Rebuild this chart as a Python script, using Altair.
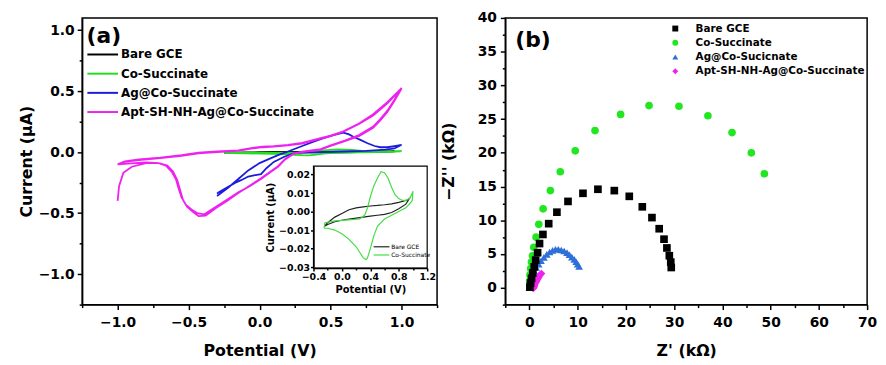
import altair as alt
import pandas as pd

FONT = "DejaVu Sans"

# ---------------- panel (a): cyclic voltammetry ----------------
cv_names = ["Bare GCE", "Co-Succinate", "Ag@Co-Succinate", "Apt-SH-NH-Ag@Co-Succinate"]
cv_colors = ["#000000", "#22dd22", "#1c1cdc", "#ee22ee"]

bare_v = [-0.25, -0.2, -0.1, 0.0, 0.1, 0.2, 0.3, 0.4, 0.5, 0.6, 0.7, 0.8, 0.9, 0.95,
          0.9, 0.8, 0.7, 0.6, 0.5, 0.4, 0.3, 0.2, 0.1, 0.0, -0.1, -0.2, -0.25]
bare_i = [-0.008, -0.006, -0.003, -0.001, 0.001, 0.002, 0.0025, 0.003, 0.0033, 0.0037, 0.0042, 0.005, 0.006, 0.007,
          0.004, 0.0015, -0.0005, -0.0015, -0.002, -0.0025, -0.003, -0.0035, -0.004, -0.0047, -0.0055, -0.007, -0.008]

co_v = [-0.25, -0.24, -0.1, 0.1, 0.25, 0.32, 0.36, 0.4, 0.45, 0.5, 0.55, 0.6, 0.65, 0.7, 0.75, 0.8, 0.85, 0.9, 0.95, 0.98, 1.0,
        0.99, 0.95, 0.9, 0.8, 0.7, 0.6, 0.5, 0.45, 0.4, 0.36, 0.34, 0.3, 0.25, 0.2, 0.1, 0.0, -0.1, -0.2, -0.25]
co_i = [-0.009, -0.006, -0.005, -0.0045, -0.004, -0.002, 0.002, 0.008, 0.014, 0.018, 0.0215, 0.021, 0.018, 0.013, 0.009, 0.007, 0.006, 0.006, 0.007, 0.009, 0.011,
        0.006, 0.004, 0.002, 0.0, -0.002, -0.004, -0.008, -0.013, -0.02, -0.025, -0.026, -0.025, -0.022, -0.019, -0.015, -0.012, -0.01, -0.009, -0.009]

ag_v = [-0.3, -0.22, -0.15, -0.08, 0.0, 0.06, 0.13, 0.2, 0.3, 0.38, 0.45, 0.52, 0.59, 0.63, 0.66, 0.71, 0.76, 0.81, 0.85, 0.9, 0.95, 1.0,
        0.95, 0.89, 0.75, 0.6, 0.45, 0.3, 0.24, 0.17, 0.1, 0.05, 0.01, -0.04, -0.08, -0.13, -0.17, -0.23, -0.29, -0.3]
ag_i = [-0.36, -0.29, -0.22, -0.15, -0.09, -0.06, -0.025, 0.005, 0.05, 0.086, 0.115, 0.14, 0.159, 0.145, 0.126, 0.1, 0.073, 0.05, 0.04, 0.04, 0.05, 0.06,
        0.03, 0.02, 0.01, 0.005, 0.0, -0.005, -0.01, -0.04, -0.08, -0.13, -0.18, -0.19, -0.2, -0.23, -0.25, -0.29, -0.33, -0.34]

apt_up_v = [-1.0, -0.95, -0.85, -0.7, -0.55, -0.43, -0.3, -0.15, -0.05, 0.02, 0.1, 0.2, 0.3, 0.43, 0.5, 0.59, 0.7, 0.8, 0.9, 1.0]
apt_up1_i = [-0.10, -0.08, -0.065, -0.05, -0.03, -0.01, 0.0, 0.01, 0.03, 0.04, 0.045, 0.055, 0.07, 0.11, 0.13, 0.167, 0.23, 0.3, 0.4, 0.52]
apt_up2_i = [-0.10, -0.075, -0.06, -0.045, -0.025, -0.005, 0.005, 0.015, 0.035, 0.045, 0.05, 0.06, 0.075, 0.115, 0.135, 0.17, 0.235, 0.31, 0.41, 0.525]
apt_dn1_v = [0.95, 0.9, 0.85, 0.8, 0.7, 0.6, 0.5, 0.43, 0.3, 0.24, 0.18, 0.13, 0.07, 0.01, -0.07, -0.15, -0.23, -0.31, -0.39, -0.44,
             -0.48, -0.52, -0.55, -0.57, -0.59, -0.62, -0.66, -0.71, -0.8, -0.88, -1.0]
apt_dn1_i = [0.42, 0.33, 0.26, 0.2, 0.13, 0.09, 0.05, 0.02, 0.0, -0.014, -0.06, -0.12, -0.17, -0.22, -0.28, -0.33, -0.39, -0.45, -0.51, -0.50,
             -0.47, -0.43, -0.37, -0.30, -0.22, -0.16, -0.11, -0.09, -0.085, -0.09, -0.10]
apt_dn2_v = [0.95, 0.9, 0.85, 0.8, 0.7, 0.6, 0.5, 0.43, 0.3, 0.24, 0.18, 0.13, 0.07, 0.01, -0.07, -0.15, -0.23, -0.31, -0.38, -0.43,
             -0.47, -0.51, -0.54, -0.56, -0.58, -0.61, -0.65, -0.71, -0.8, -0.9, -0.96, -0.99, -1.0]
apt_dn2_i = [0.43, 0.34, 0.27, 0.21, 0.14, 0.095, 0.055, 0.025, 0.003, -0.012, -0.055, -0.115, -0.165, -0.215, -0.275, -0.335, -0.40, -0.46, -0.52, -0.525,
             -0.49, -0.45, -0.39, -0.31, -0.23, -0.16, -0.11, -0.09, -0.09, -0.12, -0.17, -0.28, -0.40]

apt_v = apt_up_v + apt_dn1_v + apt_up_v + apt_dn2_v
apt_i = apt_up1_i + apt_dn1_i + apt_up2_i + apt_dn2_i

inset_names = ["Bare GCE", "Co-Succinate"]
inset_colors = ["#222222", "#44dd44"]

# tick positions
a_x_ticks = [-1.25, -1.0, -0.75, -0.5, -0.25, 0.0, 0.25, 0.5, 0.75, 1.0, 1.25]
a_y_ticks = [-1.25, -1.0, -0.75, -0.5, -0.25, 0.0, 0.25, 0.5, 0.75, 1.0]
in_x_ticks = [-0.4, -0.2, 0.0, 0.2, 0.4, 0.6, 0.8, 1.0, 1.2]
in_y_ticks = [-0.03, -0.02, -0.01, 0.0, 0.01, 0.02]

# ---------------- panel (b): Nyquist ----------------
eis_names = ["Bare GCE", "Co-Succinate", "Ag@Co-Sucicnate", "Apt-SH-NH-Ag@Co-Succinate"]
eis_colors = ["#000000", "#22e622", "#2e6fd8", "#ee22ee"]
eis_shapes = ["square", "circle", "triangle-up", "diamond"]

bare_zre = [29.4, 29.3, 29.0, 28.5, 27.9, 26.9, 25.4, 23.4, 20.7, 17.6, 14.2, 11.1, 8.0, 5.7, 4.0, 2.8, 2.1, 1.7, 1.3, 1.0, 0.7, 0.45, 0.25, 0.1]
bare_zim = [3.0, 3.8, 4.75, 5.9, 7.2, 8.75, 10.4, 12.0, 13.55, 14.4, 14.6, 14.0, 12.8, 11.2, 9.5, 7.9, 6.55, 5.2, 4.1, 3.1, 2.2, 1.4, 0.7, 0.1]
co_zre = [48.7, 46.0, 42.0, 37.0, 31.0, 24.8, 18.9, 13.6, 9.5, 6.4, 4.35, 2.84, 1.95, 1.39, 0.9, 0.63, 0.42, 0.25, 0.12, 0.05]
co_zim = [16.9, 20.0, 23.0, 25.5, 26.9, 27.0, 25.7, 23.3, 20.3, 17.2, 14.4, 11.7, 9.4, 7.5, 6.0, 4.75, 3.8, 2.85, 1.9, 1.0]
ag_zre = [0.0, 0.1, 0.25, 0.45, 0.7, 1.0, 1.4, 1.9, 2.4, 3.0, 3.6, 4.2, 4.8, 5.4, 6.0, 6.6, 7.2, 7.8, 8.3, 8.8, 9.3, 9.7, 10.0, 10.3]
ag_zim = [0.0, 0.5, 1.0, 1.5, 2.0, 2.5, 3.0, 3.5, 4.0, 4.5, 4.95, 5.3, 5.55, 5.7, 5.7, 5.6, 5.45, 5.2, 4.9, 4.55, 4.2, 3.85, 3.5, 3.15]
apt_zre = [0.8, 0.9, 1.0, 1.1, 1.2, 1.35, 1.5, 1.65, 1.8, 1.95, 2.1, 2.3, 2.5]
apt_zim = [-0.1, 0.05, 0.2, 0.4, 0.6, 0.8, 1.0, 1.2, 1.4, 1.6, 1.8, 2.0, 2.1]

b_x_ticks = list(range(-5, 71, 5))
b_y_ticks = [-2.5, 0, 2.5, 5, 7.5, 10, 12.5, 15, 17.5, 20, 22.5, 25, 27.5, 30, 32.5, 35, 37.5, 40]

# ---------------- tables ----------------
def series_df(names, vs, is_, fname, vname, iname):
    rows = []
    for n, v, i in zip(names, vs, is_):
        for k, (a, b) in enumerate(zip(v, i)):
            rows.append({fname: n, vname: a, iname: b, "idx": k})
    return pd.DataFrame(rows)

cv_df = series_df(cv_names, [bare_v, co_v, ag_v, apt_v], [bare_i, co_i, ag_i, apt_i], "series", "V", "I")
inset_df = series_df(inset_names, [bare_v, co_v], [bare_i, co_i], "inset", "Vi", "Ii")
eis_df = series_df(eis_names, [bare_zre, co_zre, ag_zre, apt_zre], [bare_zim, co_zim, ag_zim, apt_zim], "sample", "Zre", "Zim")


def qaxis(values, step, fmt, major=5, minor=3, **kw):
    test = f"abs(datum.value/{step} - round(datum.value/{step})) > 0.001"
    return alt.Axis(values=values, format=fmt, labelExpr=f"{test} ? '' : datum.label",
                    tickSize={"condition": {"test": test, "value": minor}, "value": major},
                    labelFlush=False, labelOverlap=False, grid=False, **kw)


PW_A, PH = 359, 290
PW_B = 366

main_lines = alt.Chart(cv_df).mark_line(strokeWidth=1.8).encode(
    x=alt.X("V:Q", scale=alt.Scale(domain=[-1.25, 1.25], nice=False, zero=False),
            axis=qaxis(a_x_ticks, 0.5, ".1f", title="Potential (V)", orient="bottom",
                       labelFontSize=14, titleFontSize=16, labelPadding=6, titlePadding=13)),
    y=alt.Y("I:Q", scale=alt.Scale(domain=[-1.25, 1.1], nice=False, zero=False),
            axis=qaxis(a_y_ticks, 0.5, ".1f", title="Current (μA)", orient="left",
                       labelFontSize=14, titleFontSize=16, labelPadding=3, titlePadding=4)),
    color=alt.Color("series:N", scale=alt.Scale(domain=cv_names, range=cv_colors),
                    legend=alt.Legend(title=None, orient="none", legendX=13.3, legendY=29.5,
                                      symbolType="M-2.5,0H2.5", symbolSize=154, symbolStrokeWidth=2,
                                      labelFontSize=12, labelFont=FONT, labelFontWeight="bold",
                                      labelColor="black", labelOffset=11, rowPadding=5.4, padding=0,
                                      labelLimit=400)),
    order="idx:Q",
)

inset_frame = alt.Chart(pd.DataFrame({"k": [0]})).mark_rect(
    fill="white", stroke="black", strokeWidth=1.2
).encode(x=alt.value(234), x2=alt.value(349), y=alt.value(150), y2=alt.value(253))

inset_lines = alt.Chart(inset_df).mark_line(strokeWidth=1.2).encode(
    x=alt.X("Vi:Q", scale=alt.Scale(domain=[-0.4, 1.2], range=[234, 349], nice=False, zero=False),
            axis=qaxis(in_x_ticks, 0.4, ".1f", major=3, minor=2, title="Potential (V)", orient="bottom",
                       offset=-37, labelFontSize=9.5, titleFontSize=10, labelPadding=1, titlePadding=3,
                       zindex=1)),
    y=alt.Y("Ii:Q", scale=alt.Scale(domain=[-0.0305, 0.0245], range=[253, 150], nice=False, zero=False),
            axis=qaxis(in_y_ticks, 0.01, ".2f", major=3, minor=2, title="Current (μA)", orient="left",
                       offset=-234, labelFontSize=9.5, titleFontSize=10, labelPadding=1, titlePadding=3,
                       zindex=1)),
    color=alt.Color("inset:N", scale=alt.Scale(domain=inset_names, range=inset_colors),
                    legend=alt.Legend(title=None, orient="none", legendX=298.8, legendY=227.5,
                                      symbolType="M-2.5,0H2.5", symbolSize=41, symbolStrokeWidth=1.2,
                                      labelFontSize=6, labelFont=FONT, labelFontWeight="normal",
                                      labelColor="black", labelOffset=5.8, rowPadding=1.3, padding=0,
                                      labelLimit=200)),
    order="idx:Q",
)

label_a = alt.Chart(pd.DataFrame({"t": ["(a)"]})).mark_text(
    font=FONT, fontSize=22, fontWeight="bold", color="black", align="center", baseline="middle"
).encode(text="t:N", x=alt.value(22), y=alt.value(18.5))

panel_a = alt.layer(main_lines, inset_frame, inset_lines, label_a).resolve_scale(
    x="independent", y="independent", color="independent"
).properties(width=PW_A, height=PH)

eis_legend = alt.Legend(title=None, orient="none", legendX=166.7, legendY=5.5, symbolSize=36,
                        labelFontSize=10.5, labelFont=FONT, labelFontWeight="bold", labelColor="black",
                        labelOffset=15.3, rowPadding=3.4, padding=0, labelLimit=400)

eis_points = alt.Chart(eis_df).mark_point(filled=True, size=60, opacity=1).encode(
    x=alt.X("Zre:Q", scale=alt.Scale(domain=[-5, 70], nice=False, zero=False),
            axis=qaxis(b_x_ticks, 10, "d", title="Z' (kΩ)", orient="bottom",
                       labelFontSize=14, titleFontSize=16, labelPadding=6, titlePadding=13)),
    y=alt.Y("Zim:Q", scale=alt.Scale(domain=[-2.5, 40], nice=False, zero=False),
            axis=qaxis(b_y_ticks, 5, "d", title="−Z'' (kΩ)", orient="left",
                       labelFontSize=14, titleFontSize=16, labelPadding=4, titlePadding=21)),
    color=alt.Color("sample:N", scale=alt.Scale(domain=eis_names, range=eis_colors), legend=eis_legend),
    shape=alt.Shape("sample:N", scale=alt.Scale(domain=eis_names, range=eis_shapes), legend=eis_legend),
    order="idx:Q",
)

label_b = alt.Chart(pd.DataFrame({"t": ["(b)"]})).mark_text(
    font=FONT, fontSize=22, fontWeight="bold", color="black", align="center", baseline="middle"
).encode(text="t:N", x=alt.value(28), y=alt.value(22.5))

panel_b = alt.layer(eis_points, label_b).properties(width=PW_B, height=PH)

chart = alt.hconcat(panel_a, panel_b, spacing=0).resolve_scale(
    x="independent", y="independent", color="independent", shape="independent"
).properties(
    padding={"left": 9, "top": 0, "right": 0, "bottom": 0}
).configure_view(
    stroke="black", strokeWidth=1.5
).configure_axis(
    labelFont=FONT, labelFontWeight="bold", labelColor="black",
    titleFont=FONT, titleFontWeight="bold", titleColor="black",
    domainColor="black", domainWidth=1.5, tickColor="black", tickWidth=1.5,
)

chart.save("out.html", embed_options={"renderer": "svg", "actions": False})
